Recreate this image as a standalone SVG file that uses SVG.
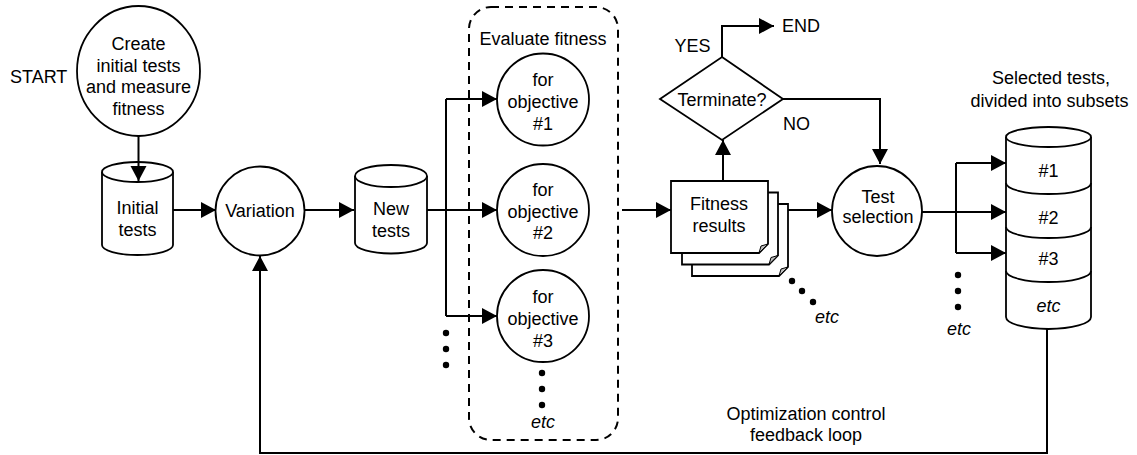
<svg xmlns="http://www.w3.org/2000/svg" width="1137" height="455" viewBox="0 0 1137 455">
<defs>
<style>
.t{font-family:"Liberation Sans",Arial,sans-serif;font-size:18px;fill:#000;text-anchor:middle}
.s{text-anchor:start}
.i{font-style:italic}
.sh{fill:#fff;stroke:#000;stroke-width:1.8}
.ln{fill:none;stroke:#000;stroke-width:2}
.fold{fill:#bdbdbd;stroke:#000;stroke-width:1}
.dot{fill:#000}
</style>
<marker id="ah" markerWidth="16" markerHeight="17" refX="15" refY="8" orient="auto" markerUnits="userSpaceOnUse"><path d="M0,0 L15,8 L0,16 z" fill="#000"/></marker>
</defs>
<rect width="1137" height="455" fill="#fff"/>

<g id="evaluate-box">
<rect x="469" y="7" width="149" height="433" rx="22" ry="22" fill="none" stroke="#000" stroke-width="2" stroke-dasharray="8,6"/>
<text class="t" x="543" y="44.5">Evaluate fitness</text>
</g>

<g id="start">
<text class="t s" x="10" y="83">START</text>
</g>

<g id="create">
<ellipse class="sh" cx="138.5" cy="71" rx="61.5" ry="65"/>
<text class="t" x="138.5" y="50">Create</text>
<text class="t" x="138.5" y="71.7">initial tests</text>
<text class="t" x="138.5" y="93.4">and measure</text>
<text class="t" x="138.5" y="115">fitness</text>
</g>

<g id="initial-tests">
<path class="sh" d="M102,172 V245 A35.5,10 0 0 0 173,245 V172"/>
<ellipse class="sh" cx="137.5" cy="172" rx="35.5" ry="10"/>
<text class="t" x="137.5" y="214">Initial</text>
<text class="t" x="137.5" y="236">tests</text>
</g>

<g id="variation">
<circle class="sh" cx="260" cy="211" r="44.5"/>
<text class="t" x="260" y="217">Variation</text>
</g>

<g id="new-tests">
<path class="sh" d="M355,176 V243 A36,10.5 0 0 0 427,243 V176"/>
<ellipse class="sh" cx="391" cy="176" rx="36" ry="11"/>
<text class="t" x="391" y="215">New</text>
<text class="t" x="391" y="237">tests</text>
</g>

<g id="objective-1">
<circle class="sh" cx="543" cy="99.5" r="46"/>
<text class="t" x="543" y="86">for</text>
<text class="t" x="543" y="108">objective</text>
<text class="t" x="543" y="130">#1</text>
</g>

<g id="objective-2">
<circle class="sh" cx="543" cy="210" r="46"/>
<text class="t" x="543" y="196">for</text>
<text class="t" x="543" y="217.5">objective</text>
<text class="t" x="543" y="239">#2</text>
</g>

<g id="objective-3">
<circle class="sh" cx="543" cy="316" r="46"/>
<text class="t" x="543" y="303">for</text>
<text class="t" x="543" y="325">objective</text>
<text class="t" x="543" y="347">#3</text>
</g>

<g id="objective-etc">
<circle class="dot" cx="542" cy="373" r="3.2"/>
<circle class="dot" cx="542" cy="389" r="3.2"/>
<circle class="dot" cx="542" cy="405" r="3.2"/>
<text class="t i" x="543" y="428">etc</text>
<circle class="dot" cx="446" cy="333" r="3.2"/>
<circle class="dot" cx="446" cy="349" r="3.2"/>
<circle class="dot" cx="446" cy="365" r="3.2"/>
</g>

<g id="fitness-results">
<path class="sh" d="M692,204 H788 V267 L779,276 H692 Z"/>
<polygon class="fold" points="788,267 779,276 781,269"/>
<path class="sh" d="M682,192.5 H778 V255.5 L769,264.5 H682 Z"/>
<polygon class="fold" points="778,255.5 769,264.5 771,257.5"/>
<path class="sh" d="M671,181 H768 V244 L759,253 H671 Z"/>
<polygon class="fold" points="768,244 759,253 761,246"/>
<text class="t" x="719" y="209.5">Fitness</text>
<text class="t" x="719" y="231.5">results</text>
<circle class="dot" cx="792" cy="281" r="3.2"/>
<circle class="dot" cx="802" cy="291" r="3.2"/>
<circle class="dot" cx="813" cy="302" r="3.2"/>
<text class="t i" x="827" y="323">etc</text>
</g>

<g id="terminate">
<polygon class="sh" points="722,57 783,99 722,140 660,99"/>
<text class="t" x="722" y="106">Terminate?</text>
<text class="t" x="692.5" y="51.5">YES</text>
<text class="t s" x="782" y="31.5">END</text>
<text class="t s" x="783" y="129.5">NO</text>
</g>

<g id="test-selection">
<circle class="sh" cx="877" cy="211" r="45"/>
<text class="t" x="878" y="202.5">Test</text>
<text class="t" x="878" y="222.5">selection</text>
</g>

<g id="selected-tests">
<text class="t" x="1051" y="83.5">Selected tests,</text>
<text class="t" x="1049.5" y="106.5">divided into subsets</text>
<path class="sh" d="M1006,137 V317 A42.5,12 0 0 0 1091,317 V137"/>
<ellipse class="sh" cx="1048.5" cy="137" rx="42.5" ry="10"/>
<path class="ln" style="stroke-width:1.8" d="M1006,183 A42.5,11 0 0 0 1091,183"/>
<path class="ln" style="stroke-width:1.8" d="M1006,227 A42.5,11 0 0 0 1091,227"/>
<path class="ln" style="stroke-width:1.8" d="M1006,271 A42.5,11 0 0 0 1091,271"/>
<text class="t" x="1048.5" y="177">#1</text>
<text class="t" x="1048.5" y="223.5">#2</text>
<text class="t" x="1048.5" y="265">#3</text>
<text class="t i" x="1048.5" y="311.5">etc</text>
<circle class="dot" cx="958" cy="275" r="3.2"/>
<circle class="dot" cx="958" cy="291" r="3.2"/>
<circle class="dot" cx="958" cy="307" r="3.2"/>
<text class="t i" x="959" y="335">etc</text>
</g>

<g id="feedback-label">
<text class="t" x="806" y="420">Optimization control</text>
<text class="t" x="806" y="441">feedback loop</text>
</g>

<g id="connectors">
<path class="ln" d="M138.5,136 V181" marker-end="url(#ah)"/>
<path class="ln" d="M173,210 H216" marker-end="url(#ah)"/>
<path class="ln" d="M305,210 H354" marker-end="url(#ah)"/>
<path class="ln" d="M427,210 H497" marker-end="url(#ah)"/>
<path class="ln" d="M446,99 V316"/>
<path class="ln" d="M446,99 H497" marker-end="url(#ah)"/>
<path class="ln" d="M446,316 H497" marker-end="url(#ah)"/>
<path class="ln" d="M622,210 H671" marker-end="url(#ah)"/>
<path class="ln" d="M723,181 V140" marker-end="url(#ah)"/>
<path class="ln" d="M722,57 V26 H774" marker-end="url(#ah)"/>
<path class="ln" d="M783,99 H880 V164" marker-end="url(#ah)"/>
<path class="ln" d="M788,210 H832" marker-end="url(#ah)"/>
<path class="ln" d="M922,212 H1006" marker-end="url(#ah)"/>
<path class="ln" d="M956,163 V253"/>
<path class="ln" d="M956,163 H1006" marker-end="url(#ah)"/>
<path class="ln" d="M956,253 H1006" marker-end="url(#ah)"/>
<path class="ln" d="M1047,329 V453 H260 V256" marker-end="url(#ah)"/>
</g>
</svg>
